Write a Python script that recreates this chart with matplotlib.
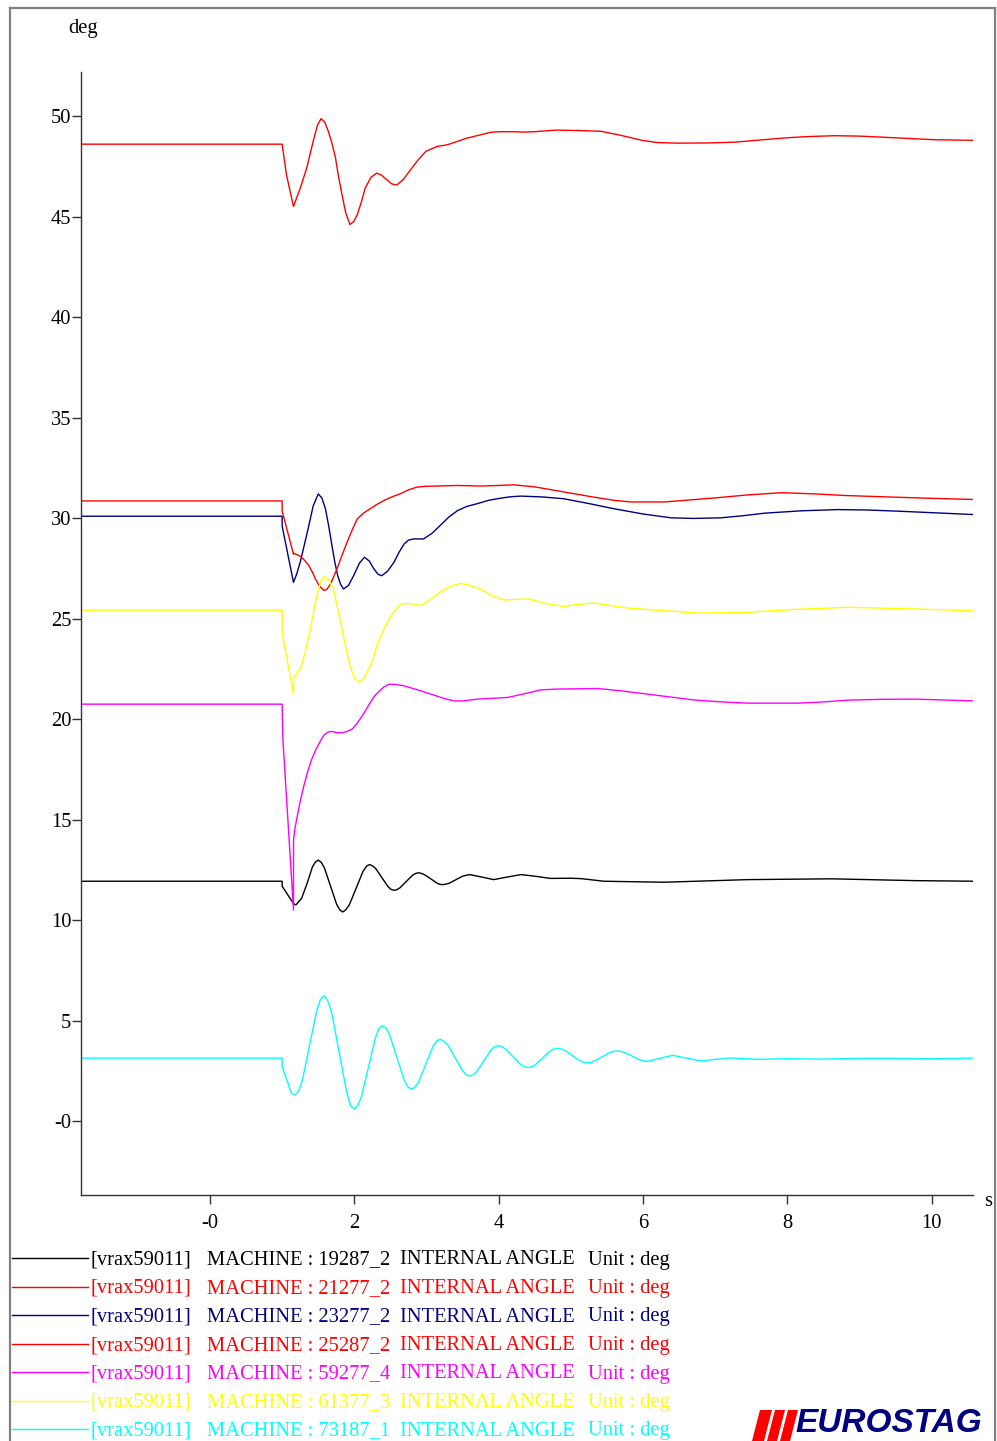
import matplotlib
matplotlib.use("Agg")
import matplotlib.pyplot as plt
from matplotlib.lines import Line2D
from matplotlib.patches import Polygon

# ---------------- data ----------------
t_black = [-1.79, 1.0, 1.0, 1.157, 1.19, 1.27, 1.35, 1.42, 1.46, 1.50, 1.54, 1.585, 1.67, 1.755,
           1.80, 1.84, 1.88, 1.93, 2.025, 2.12, 2.17, 2.21, 2.25, 2.295, 2.38, 2.465, 2.51, 2.55,
           2.59, 2.635, 2.72, 2.805, 2.85, 2.89, 2.93, 2.97, 3.055, 3.14, 3.18, 3.22, 3.26,
           3.315, 3.41, 3.505, 3.60, 3.765, 3.93, 4.12, 4.31, 4.5, 4.72, 5.0, 5.14, 5.46, 6.29,
           7.45, 8.61, 9.77, 10.6]
v_black = [11.93, 11.93, 11.68, 10.82, 10.75, 11.08, 11.87, 12.65, 12.88, 12.98, 12.88, 12.60, 11.69,
           10.78, 10.50, 10.40, 10.50, 10.75, 11.58, 12.42, 12.68, 12.76, 12.70, 12.57, 12.12, 11.67,
           11.52, 11.48, 11.51, 11.61, 11.92, 12.22, 12.32, 12.35, 12.32, 12.26, 12.06, 11.85, 11.78,
           11.76, 11.78, 11.83, 12.01, 12.19, 12.26, 12.14, 12.01, 12.14, 12.26, 12.18, 12.07, 12.08,
           12.06, 11.93, 11.88, 12.01, 12.05, 11.96, 11.93]

t_red1 = [-1.79, 1.0, 1.06, 1.157, 1.25, 1.34, 1.43, 1.49, 1.54, 1.59, 1.64, 1.69, 1.74, 1.78,
          1.83, 1.88, 1.94, 1.99, 2.04, 2.10, 2.15, 2.23, 2.31, 2.38, 2.45, 2.52, 2.59, 2.68,
          2.78, 2.88, 2.99, 3.15, 3.29, 3.56, 3.89, 4.0, 4.2, 4.35, 4.5, 4.8, 5.1, 5.42, 5.69,
          6.0, 6.2, 6.48, 6.9, 7.27, 7.6, 8.0, 8.3, 8.65, 9.0, 9.3, 9.7, 10.04, 10.6]
v_red1 = [48.6, 48.6, 47.07, 45.5, 46.4, 47.41, 48.74, 49.55, 49.87, 49.7, 49.24, 48.65, 47.9, 47.0,
          46.08, 45.2, 44.6, 44.75, 45.08, 45.75, 46.41, 46.95, 47.16, 47.05, 46.83, 46.62, 46.57, 46.85,
          47.33, 47.8, 48.24, 48.49, 48.57, 48.9, 49.19, 49.22, 49.22, 49.2, 49.22, 49.3, 49.28, 49.24, 49.04,
          48.78, 48.68, 48.65, 48.66, 48.7, 48.8, 48.92, 48.98, 49.02, 49.0, 48.95, 48.88, 48.82, 48.79]

t_navy = [-1.79, 1.0, 1.0, 1.14, 1.157, 1.20, 1.25, 1.31, 1.37, 1.43, 1.50, 1.55, 1.60, 1.645,
          1.69, 1.73, 1.77, 1.81, 1.85, 1.92, 1.99, 2.07, 2.14, 2.21, 2.27, 2.33, 2.38, 2.46,
          2.55, 2.62, 2.69, 2.75, 2.82, 2.96, 3.08, 3.19, 3.31, 3.43, 3.56, 3.70, 3.86, 4.03,
          4.17, 4.31, 4.6, 4.9, 5.25, 5.6, 6.0, 6.39, 6.7, 7.08, 7.4, 7.68, 8.2, 8.7, 9.1,
          9.54, 10.1, 10.6]
v_navy = [30.09, 30.09, 29.6, 27.1, 26.8, 27.2, 27.8, 28.7, 29.63, 30.6, 31.2, 31.0, 30.46, 29.6,
          28.63, 27.8, 27.13, 26.7, 26.47, 26.65, 27.13, 27.75, 28.05, 27.85, 27.47, 27.2, 27.13, 27.35,
          27.8, 28.3, 28.71, 28.9, 28.96, 28.96, 29.25, 29.63, 30.05, 30.37, 30.58, 30.71, 30.88, 30.99,
          31.06, 31.09, 31.05, 30.96, 30.72, 30.46, 30.2, 30.01, 29.98, 30.01, 30.12, 30.24, 30.36, 30.42, 30.4,
          30.34, 30.25, 30.17]

t_red2 = [-1.79, 1.0, 1.0, 1.157, 1.16, 1.25, 1.31, 1.37, 1.42, 1.46, 1.52, 1.58, 1.62, 1.67,
          1.71, 1.76, 1.83, 1.90, 1.97, 2.04, 2.13, 2.22, 2.31, 2.41, 2.52, 2.64, 2.75, 2.87,
          3.0, 3.15, 3.43, 3.75, 4.0, 4.21, 4.5, 4.9, 5.3, 5.6, 5.83, 6.3, 6.65, 7.0, 7.45,
          7.92, 8.38, 8.8, 9.3, 10.0, 10.6]
v_red2 = [30.85, 30.85, 30.35, 28.2, 28.25, 28.1, 27.9, 27.63, 27.3, 26.97, 26.6, 26.4, 26.45, 26.72,
          27.05, 27.47, 28.15, 28.8, 29.4, 29.96, 30.25, 30.46, 30.67, 30.87, 31.05, 31.21, 31.4, 31.54,
          31.58, 31.59, 31.62, 31.59, 31.62, 31.65, 31.55, 31.3, 31.05, 30.88, 30.8, 30.8, 30.9, 31.0, 31.15,
          31.26, 31.2, 31.12, 31.06, 30.98, 30.92]

t_magenta = [-1.79, 1.0, 1.01, 1.157, 1.158, 1.18, 1.2, 1.25, 1.30, 1.355, 1.41, 1.47, 1.53, 1.58,
             1.64, 1.70, 1.75, 1.85, 1.91, 1.97, 2.03, 2.1, 2.16, 2.22, 2.28, 2.35, 2.41, 2.48,
             2.58, 2.69, 2.88, 3.06, 3.22, 3.38, 3.5, 3.61, 3.75, 3.95, 4.12, 4.35, 4.58, 4.8,
             5.0, 5.37, 5.7, 6.06, 6.7, 7.1, 7.45, 8.15, 8.5, 8.84, 9.3, 9.77, 10.6]
v_magenta = [20.74, 20.74, 19.0, 10.5, 14.0, 14.6, 15.0, 15.9, 16.67, 17.4, 18.0, 18.5, 18.91, 19.2,
             19.36, 19.38, 19.32, 19.33, 19.4, 19.5, 19.75, 20.1, 20.45, 20.82, 21.15, 21.4, 21.6, 21.73,
             21.72, 21.65, 21.45, 21.24, 21.05, 20.9, 20.9, 20.95, 21.0, 21.04, 21.07, 21.25, 21.45, 21.49,
             21.5, 21.52, 21.4, 21.24, 20.95, 20.85, 20.79, 20.79, 20.85, 20.94, 20.98, 20.99, 20.9]

t_yellow = [-1.79, 1.0, 1.0, 1.157, 1.16, 1.25, 1.32, 1.39, 1.44, 1.48, 1.53, 1.58, 1.64, 1.71,
            1.77, 1.83, 1.885, 1.94, 2.0, 2.07, 2.13, 2.20, 2.26, 2.31, 2.41, 2.52, 2.64, 2.78,
            2.92, 3.05, 3.19, 3.33, 3.47, 3.6, 3.75, 3.9, 4.07, 4.25, 4.42, 4.65, 4.9, 5.1,
            5.32, 5.55, 5.79, 6.25, 6.76, 7.45, 8.1, 8.84, 9.7, 10.6]
v_yellow = [25.42, 25.42, 24.3, 21.24, 22.07, 22.48, 23.3, 24.48, 25.4, 26.14, 26.8, 27.1, 26.95, 26.47,
            25.5, 24.48, 23.5, 22.65, 22.05, 21.82, 22.0, 22.48, 23.0, 23.64, 24.48, 25.2, 25.72, 25.75,
            25.64, 25.95, 26.31, 26.6, 26.75, 26.65, 26.47, 26.15, 25.92, 25.95, 25.97, 25.75, 25.6, 25.7,
            25.77, 25.65, 25.52, 25.4, 25.27, 25.31, 25.45, 25.56, 25.48, 25.39]

t_cyan = [-1.79, 1.0, 1.0, 1.065, 1.13, 1.18, 1.23, 1.28, 1.38, 1.48, 1.53, 1.58, 1.63, 1.685,
          1.79, 1.895, 1.95, 2.0, 2.05, 2.0975, 2.195, 2.2925, 2.34, 2.39, 2.44, 2.49, 2.59,
          2.69, 2.74, 2.79, 2.84, 2.89, 2.99, 3.09, 3.14, 3.19, 3.24, 3.2925, 3.395, 3.4975,
          3.55, 3.60, 3.65, 3.6975, 3.795, 3.8925, 3.94, 3.99, 4.04, 4.095, 4.20, 4.305, 4.36,
          4.41, 4.46, 4.51, 4.61, 4.71, 4.76, 4.81, 4.86, 4.915, 5.02, 5.125, 5.18, 5.23, 5.28,
          5.3325, 5.435, 5.5375, 5.59, 5.64, 5.69, 5.745, 5.85, 5.955, 6.06, 6.235, 6.41, 6.605,
          6.8, 7.2, 7.6, 8.0, 8.5, 9.0, 9.5, 10.0, 10.6]
v_cyan = [3.13, 3.13, 2.71, 2.04, 1.38, 1.30, 1.50, 2.02, 3.77, 5.51, 6.05, 6.23, 6.00, 5.41,
          3.42, 1.42, 0.75, 0.60, 0.78, 1.20, 2.67, 4.14, 4.60, 4.74, 4.62, 4.28, 3.16,
          2.04, 1.70, 1.58, 1.68, 1.94, 2.83, 3.71, 3.98, 4.07, 3.98, 3.80, 3.16, 2.51,
          2.30, 2.24, 2.31, 2.46, 3.00, 3.53, 3.69, 3.75, 3.70, 3.59, 3.21, 2.82, 2.70,
          2.66, 2.70, 2.80, 3.14, 3.48, 3.58, 3.62, 3.59, 3.52, 3.26, 3.01, 2.92, 2.90, 2.92,
          2.99, 3.20, 3.40, 3.47, 3.49, 3.47, 3.41, 3.23, 3.04, 2.96, 3.12, 3.27, 3.13,
          2.99, 3.14, 3.07, 3.10, 3.08, 3.12, 3.12, 3.10, 3.13]

series_ids = ["19287_2", "21277_2", "23277_2", "25287_2", "59277_4", "61377_3", "73187_1"]
series_t = [t_black, t_red1, t_navy, t_red2, t_magenta, t_yellow, t_cyan]
series_v = [v_black, v_red1, v_navy, v_red2, v_magenta, v_yellow, v_cyan]
series_colors = ["#000000", "#ff0000", "#000080", "#ff0000", "#ff00ff", "#ffff00", "#00ffff"]

x_ticks = [0, 2, 4, 6, 8, 10]
x_ticklabels = ["-0", "2", "4", "6", "8", "10"]
y_ticks = [0, 5, 10, 15, 20, 25, 30, 35, 40, 45, 50]
y_ticklabels = ["-0", "5", "10", "15", "20", "25", "30", "35", "40", "45", "50"]

# ---------------- figure ----------------
W, H = 997, 1441
fig = plt.figure(figsize=(W / 100, H / 100), dpi=100)
fig.patch.set_facecolor("white")

def fx(px):
    return px / W

def fy(py):
    return 1 - py / H

serif = ["Liberation Serif", "DejaVu Serif"]
fs = 14.8

ax = fig.add_axes([fx(81), fy(1195), fx(972.5) - fx(81), fy(72) - fy(1195)])
for tt, vv, cc in zip(series_t, series_v, series_colors):
    ax.plot(tt, vv, color=cc, lw=1.0, solid_joinstyle="round")

ax.set_xlim(-1.787, 10.565)
ax.set_ylim(-3.68, 52.19)
for s in ["top", "right"]:
    ax.spines[s].set_visible(False)
for s in ["left", "bottom"]:
    ax.spines[s].set_color("#333333")
    ax.spines[s].set_linewidth(1.0)
ax.set_xticks(x_ticks)
ax.set_xticklabels(x_ticklabels, fontfamily=serif, fontsize=fs)
ax.set_yticks(y_ticks)
ax.set_yticklabels(y_ticklabels, fontfamily=serif, fontsize=fs)
ax.tick_params(axis="x", direction="out", length=6.5, width=1.0, color="#333333", pad=7)
ax.tick_params(axis="y", direction="out", length=6.5, width=1.0, color="#333333", pad=0.5)

fig.text(fx(83), fy(29), "deg", ha="center", va="center", fontfamily=serif, fontsize=fs)
fig.text(fx(988), fy(1201), "s", ha="center", va="center", fontfamily=serif, fontsize=fs)

# outer frame
frame_kw = dict(color="#808080", lw=1.6, transform=fig.transFigure)
fig.add_artist(Line2D([fx(9.5), fx(994.5)], [fy(8), fy(8)], **frame_kw))
fig.add_artist(Line2D([fx(9.5), fx(9.5)], [fy(8), fy(1441)], **frame_kw))
fig.add_artist(Line2D([fx(994.5), fx(994.5)], [fy(8), fy(1441)], **frame_kw))

# legend block
row0, dy = 1258, 28.5
for i, (sid, cc) in enumerate(zip(series_ids, series_colors)):
    yy = row0 + i * dy
    fig.add_artist(Line2D([fx(12), fx(88)], [fy(yy), fy(yy)], color=cc, lw=1.0,
                          transform=fig.transFigure))
    kw = dict(ha="left", va="center", fontfamily=serif, fontsize=fs, color=cc)
    fig.text(fx(90), fy(yy + 2), "[vrax59011]", **kw)
    fig.text(fx(207), fy(yy + 2), "MACHINE : " + sid, **kw)
    fig.text(fx(400), fy(yy + 2), "INTERNAL ANGLE", **kw)
    fig.text(fx(588), fy(yy + 2), "Unit : deg", **kw)

# EUROSTAG logo
bars = [[(752, 1441), (764, 1441), (772, 1410), (760, 1410)],
        [(767, 1441), (777, 1441), (785, 1410), (775, 1410)],
        [(780, 1441), (790, 1441), (798, 1410), (788, 1410)]]
for b in bars:
    fig.add_artist(Polygon([(fx(x), fy(y)) for x, y in b], closed=True,
                           facecolor="#ff0000", edgecolor="none", transform=fig.transFigure))
fig.text(fx(795), fy(1439), "EUROSTAG", ha="left", va="bottom",
         fontfamily=["Liberation Sans", "DejaVu Sans"],
         fontweight="bold", fontstyle="italic", fontsize=24, color="#000080")

fig.savefig("out.png", dpi=100, facecolor="white")
